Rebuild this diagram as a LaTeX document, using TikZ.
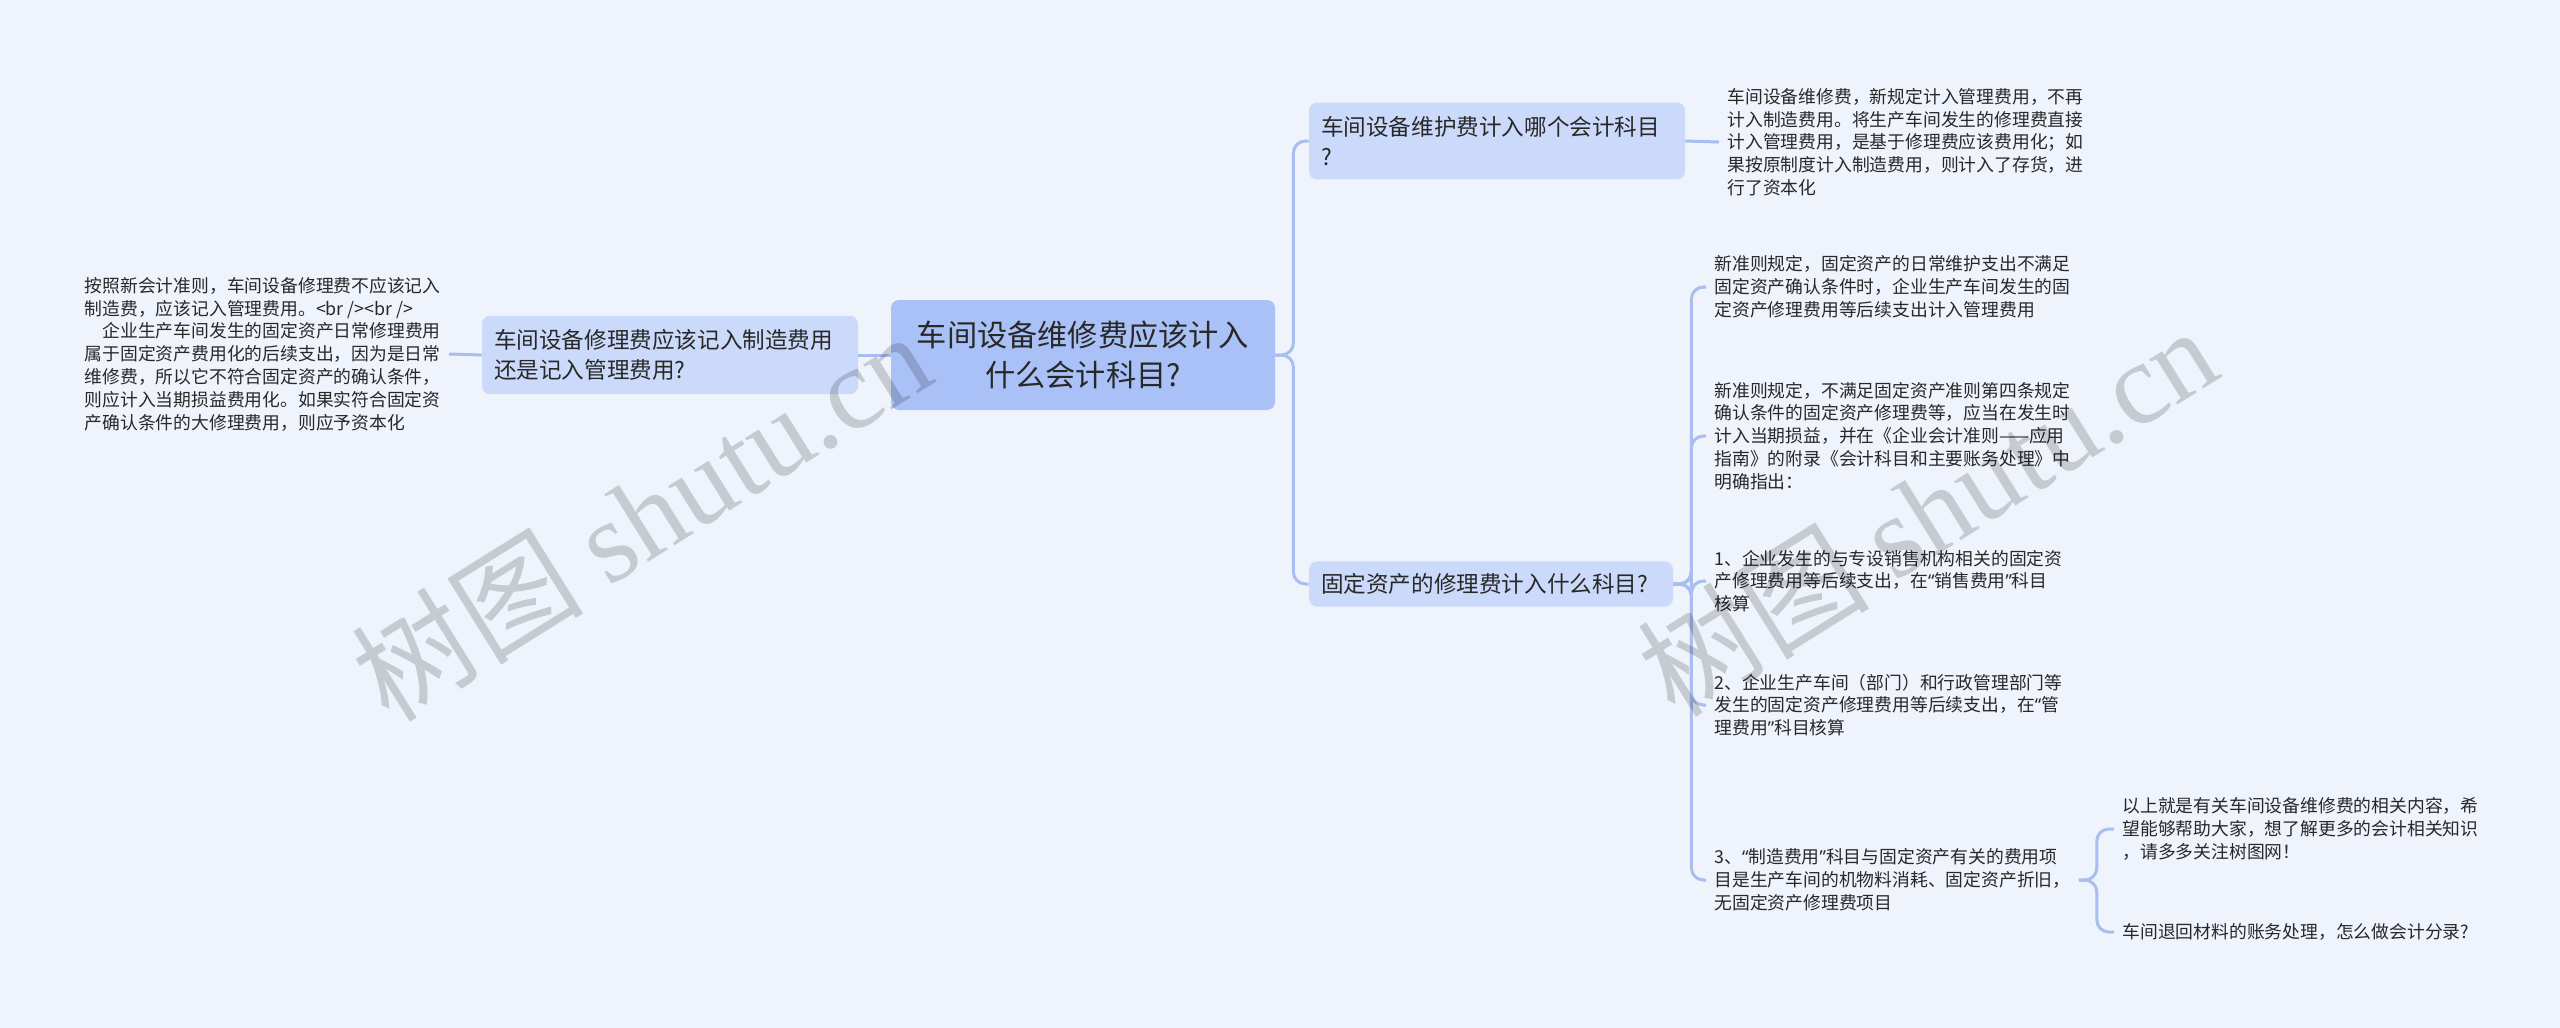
\documentclass[tikz,border=0pt]{standalone}
\usepackage{fontspec}
\setmainfont{Noto Sans CJK SC}
\newfontfamily\wmserif{Liberation Serif}
\newfontfamily\latinsans{Noto Sans}
\newcommand{\myqo}{{\latinsans “}}
\newcommand{\myqc}{{\latinsans ”}}
\usetikzlibrary{positioning}

\begin{document}
\begin{tikzpicture}[x=0.5pt, y=-0.5pt,
    rootbox/.style={fill=rootblue, rounded corners=4pt, text=txtdark, align=center,
        minimum width=192pt, minimum height=55pt, inner sep=0pt,
        font=\fontsize{15.1pt}{19.6pt}\selectfont},
    topicbox/.style={fill=topicblue, rounded corners=4pt, text=txtdark, align=left,
        inner xsep=6pt, inner ysep=7pt, font=\fontsize{11.3pt}{14.7pt}\selectfont},
    leaftext/.style={text=txtdark, align=left, inner sep=4pt,
        font=\fontsize{8.9pt}{11.4pt}\selectfont},
    link/.style={draw=linkblue, line width=1.5pt, rounded corners=6pt},
    watermark/.style={text=black, text opacity=0.17, rotate=32,
        font=\fontsize{58pt}{64pt}\selectfont}]
    % 颜色
    \definecolor{bgblue}{RGB}{239,243,252}
    \definecolor{rootblue}{RGB}{170,193,247}
    \definecolor{topicblue}{RGB}{203,218,250}
    \definecolor{linkblue}{RGB}{168,190,238}
    \definecolor{txtdark}{RGB}{40,40,40}

    % 背景
    \useasboundingbox (0,0) rectangle (2560,1028);
    \fill[bgblue] (0,0) rectangle (2560,1028);

    % 中心主题
    \node[rootbox] (root) at (1083,355) {车间设备维修费应该计入\\什么会计科目?};

    % 左侧分支
    \node[topicbox, text width=176pt] (left) at (670,355)
        {车间设备修理费应该记入制造费用\\还是记入管理费用?};
    \node[leaftext, anchor=east] (lefttxt) at (449,354)
        {按照新会计准则，车间设备修理费不应该记入\\
         制造费，应该记入管理费用。<br /><br />\\
         \hspace*{1em}企业生产车间发生的固定资产日常修理费用\\
         属于固定资产费用化的后续支出，因为是日常\\
         维修费，所以它不符合固定资产的确认条件，\\
         则应计入当期损益费用化。如果实符合固定资\\
         产确认条件的大修理费用，则应予资本化};

    % 右侧分支
    \node[topicbox, text width=176pt] (acct) at (1497,141)
        {车间设备维护费计入哪个会计科目\\?};
    \node[leaftext, anchor=west] (accttxt) at (1719,142)
        {车间设备维修费，新规定计入管理费用，不再\\
         计入制造费用。将生产车间发生的修理费直接\\
         计入管理费用，是基于修理费应该费用化；如\\
         果按原制度计入制造费用，则计入了存货，进\\
         行了资本化};
    \node[topicbox, text width=170pt, inner ysep=6pt] (fixed) at (1491,584)
        {固定资产的修理费计入什么科目?};

    % 固定资产修理费的说明
    \node[leaftext, anchor=west] (t1) at (1706,287)
        {新准则规定，固定资产的日常维护支出不满足\\
         固定资产确认条件时，企业生产车间发生的固\\
         定资产修理费用等后续支出计入管理费用};
    \node[leaftext, anchor=west] (t2) at (1706,436)
        {新准则规定，不满足固定资产准则第四条规定\\
         确认条件的固定资产修理费等，应当在发生时\\
         计入当期损益，并在《企业会计准则——应用\\
         指南》的附录《会计科目和主要账务处理》中\\
         明确指出：};
    \node[leaftext, anchor=west] (t3) at (1706,581)
        {1、企业发生的与专设销售机构相关的固定资\\
         产修理费用等后续支出，在\myqo 销售费用\myqc 科目\\
         核算};
    \node[leaftext, anchor=west] (t4) at (1706,705)
        {2、企业生产车间（部门）和行政管理部门等\\
         发生的固定资产修理费用等后续支出，在\myqo 管\\
         理费用\myqc 科目核算};
    \node[leaftext, anchor=west] (t5) at (1706,880)
        {3、\myqo 制造费用\myqc 科目与固定资产有关的费用项\\
         目是生产车间的机物料消耗、固定资产折旧，\\
         无固定资产修理费项目};
    \node[leaftext, anchor=west] (c1) at (2114,829)
        {以上就是有关车间设备维修费的相关内容，希\\
         望能够帮助大家，想了解更多的会计相关知识\\
         ，请多多关注树图网！};
    \node[leaftext, anchor=west] (c2) at (2114,932)
        {车间退回材料的账务处理，怎么做会计分录?};

    % 连线
    \draw[link] (root.west) -- (left.east);
    \draw[link] (left.west) -- (lefttxt.east);
    \draw[link] (root.east) -- ++(18,0) |- (acct.west);
    \draw[link] (root.east) -- ++(18,0) |- (fixed.west);
    \draw[link] (acct.east) -- (accttxt.west);
    \foreach \t in {t1,t2,t3,t4,t5}
        \draw[link] (fixed.east) -- ++(18,0) |- (\t.west);
    \draw[link] (t5.east) -- ++(18,0) |- (c1.west);
    \draw[link] (t5.east) -- ++(18,0) |- (c2.west);

    % 水印
    \node[watermark] (wm1) at (641,515) {树图 {\wmserif shutu.cn}};
    \node[watermark] (wm2) at (1927,510) {树图 {\wmserif shutu.cn}};
\end{tikzpicture}
\end{document}
